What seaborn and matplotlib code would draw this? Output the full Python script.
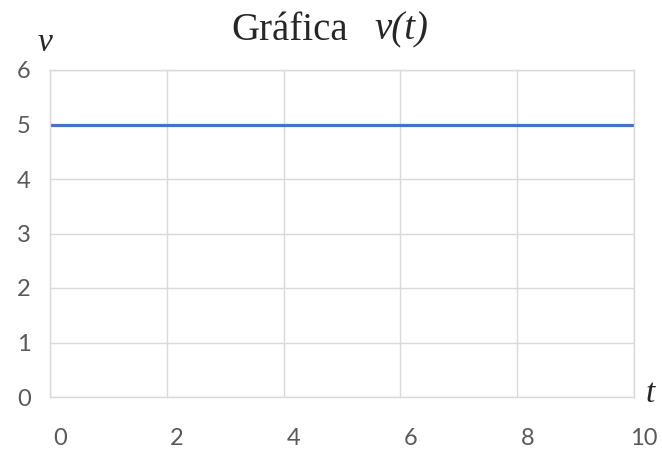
import matplotlib
matplotlib.use("Agg")
import matplotlib.pyplot as plt
import matplotlib.transforms as mtransforms
import seaborn as sns
import pandas as pd

# data
t_values = [0, 2, 4, 6, 8, 10]
v_values = [5, 5, 5, 5, 5, 5]
x_ticks = [0, 2, 4, 6, 8, 10]
y_ticks = [0, 1, 2, 3, 4, 5, 6]

sns.set_style("white")
plt.rcParams["font.family"] = ["Lato", "DejaVu Sans"]

df = pd.DataFrame({"t": t_values, "v": v_values})

fig = plt.figure(figsize=(6.62, 4.5), dpi=100)
ax = fig.add_axes([50 / 662, 1 - 397 / 450, 584 / 662, 327 / 450])

sns.lineplot(data=df, x="t", y="v", ax=ax, color="#4472C4", linewidth=2.3)

ax.set_xlim(0, 10)
ax.set_ylim(0, 6)
ax.set_xticks(x_ticks)
ax.set_yticks(y_ticks)
ax.grid(True, color="#D9D9D9", linewidth=1)
ax.set_axisbelow(True)
for s in ax.spines.values():
    s.set_color("#D9D9D9")
    s.set_linewidth(1)
ax.tick_params(axis="both", length=0, labelsize=17, labelcolor="#595959")
ax.tick_params(axis="x", pad=22)
ax.tick_params(axis="y", pad=14)
ax.set_xlabel("")
ax.set_ylabel("")

# x labels sit a bit right of the gridlines
offset = mtransforms.ScaledTranslation(10 / 100, 0, fig.dpi_scale_trans)
for lbl in ax.get_xticklabels():
    lbl.set_transform(lbl.get_transform() + offset)

serif = "Liberation Serif"
fig.text(348 / 662, 1 - 30 / 450, "Gráfica", ha="right", va="center",
         fontsize=28, family=serif)
fig.text(374 / 662, 1 - 30 / 450, "v(t)", ha="left", va="center",
         fontsize=28, family=serif, style="italic")
fig.text(45 / 662, 1 - 43 / 450, "v", ha="center", va="center",
         fontsize=24, family=serif, style="italic")
fig.text(650 / 662, 1 - 394 / 450, "t", ha="center", va="center",
         fontsize=24, family=serif, style="italic")

fig.savefig("out.png", dpi=100)
